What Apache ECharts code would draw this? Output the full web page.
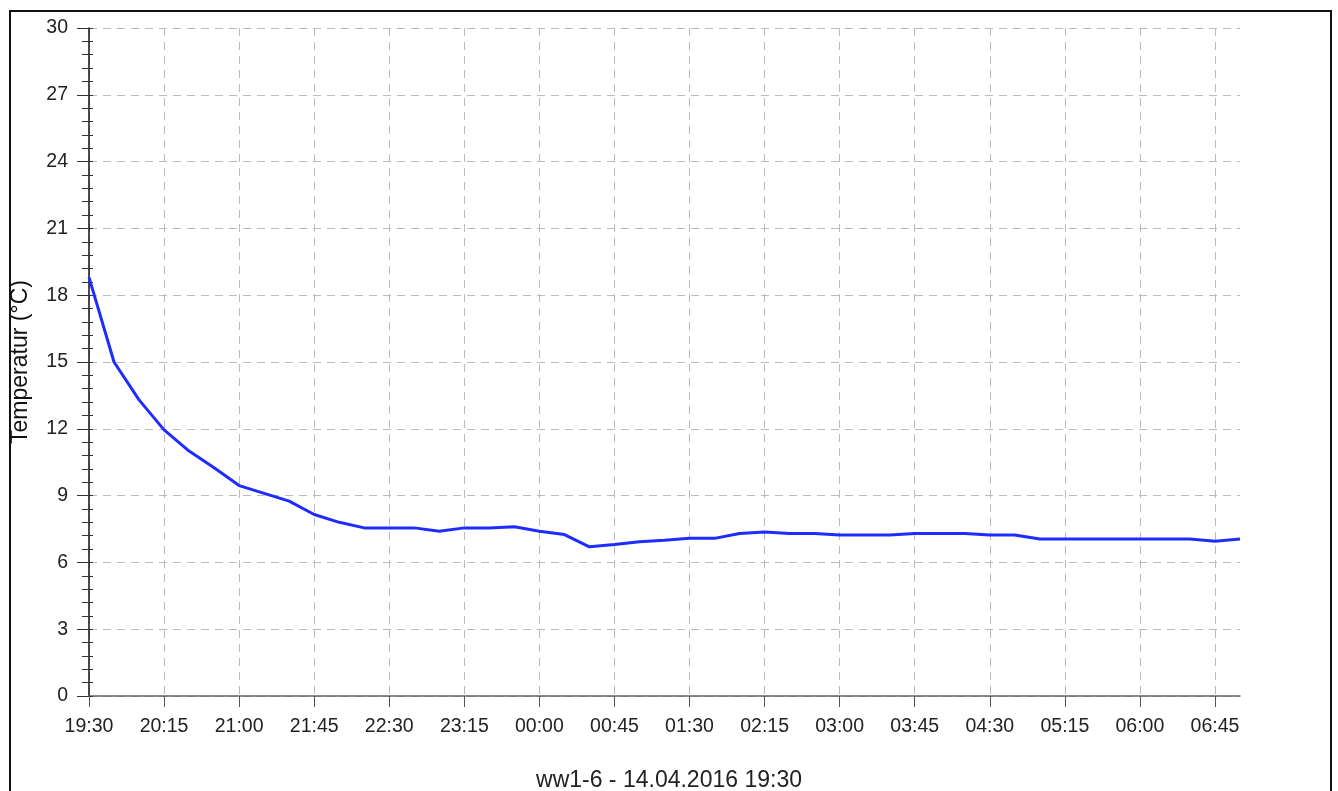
<!DOCTYPE html>
<html>
<head>
<meta charset="utf-8">
<script src="https://cdn.jsdelivr.net/npm/echarts@6/dist/echarts.min.js"></script>
<style>
html,body{margin:0;padding:0;background:#fff;}
#chart{width:1338px;height:791px;}
</style>
</head>
<body>
<div id="chart"></div>
<script>
// Time categories, every 15 minutes from 19:30 to 07:00
const times = [
  '19:30','19:45','20:00','20:15','20:30','20:45','21:00','21:15','21:30','21:45',
  '22:00','22:15','22:30','22:45','23:00','23:15','23:30','23:45','00:00','00:15',
  '00:30','00:45','01:00','01:15','01:30','01:45','02:00','02:15','02:30','02:45',
  '03:00','03:15','03:30','03:45','04:00','04:15','04:30','04:45','05:00','05:15',
  '05:30','05:45','06:00','06:15','06:30','06:45','07:00'
];
// Temperature (°C)
const temps = [
  18.8, 15.0, 13.3, 11.95, 11.0, 10.25, 9.45, 9.1, 8.75, 8.15,
  7.8, 7.55, 7.55, 7.55, 7.4, 7.55, 7.55, 7.6, 7.4, 7.25,
  6.7, 6.8, 6.93, 7.0, 7.08, 7.08, 7.3, 7.37, 7.3, 7.3,
  7.23, 7.23, 7.23, 7.3, 7.3, 7.3, 7.23, 7.23, 7.05, 7.05,
  7.05, 7.05, 7.05, 7.05, 7.05, 6.95, 7.05
];
const yTicks = [0, 3, 6, 9, 12, 15, 18, 21, 24, 27, 30];
const yName = 'Temperatur (°C)';
const titleText = 'ww1-6 - 14.04.2016 19:30';

const FONT = '"Liberation Sans", Arial, Helvetica, sans-serif';
const chart = echarts.init(document.getElementById('chart'), null, {renderer: 'canvas'});
chart.setOption({
  backgroundColor: '#fff',
  animation: false,
  title: {
    text: titleText,
    left: 664, textAlign: 'center',
    top: 764,
    textStyle: {fontFamily: FONT, fontSize: 23, fontWeight: 'normal', color: '#222'}
  },
  graphic: [{
    type: 'rect', silent: true, z: 100,
    shape: {x: 10, y: 11, width: 1321, height: 800},
    style: {fill: 'none', stroke: '#111', lineWidth: 2}
  }],
  grid: {left: 89, right: 98, top: 28, bottom: 95, containLabel: false},
  xAxis: {
    type: 'category',
    data: times,
    boundaryGap: false,
    axisLine: {show: true, lineStyle: {color: '#666', width: 1.5}},
    axisTick: {show: true, interval: 2, length: 11, lineStyle: {color: '#555'}},
    axisLabel: {interval: 2, margin: 21, fontFamily: FONT, fontSize: 19.5, color: '#222'},
    splitLine: {show: true, interval: 2, lineStyle: {color: '#bbb', type: [8, 6], width: 1}}
  },
  yAxis: [{
    type: 'value',
    min: yTicks[0], max: yTicks[yTicks.length - 1], interval: 3,
    name: yName,
    nameLocation: 'middle',
    nameGap: 57,
    nameTextStyle: {fontFamily: FONT, fontSize: 23, color: '#111'},
    axisLine: {show: true, lineStyle: {color: '#111', width: 1.5}},
    axisTick: {show: true, length: 12, lineStyle: {color: '#333'}},
    minorTick: {show: true, splitNumber: 5, length: 7, lineStyle: {color: '#333'}},
    axisLabel: {margin: 21, fontFamily: FONT, fontSize: 19.5, color: '#222'},
    splitLine: {show: true, lineStyle: {color: '#bbb', type: [8, 6], width: 1}}
  }, {
    type: 'value',
    position: 'left',
    min: yTicks[0], max: yTicks[yTicks.length - 1], interval: 3,
    axisLine: {show: false},
    axisTick: {show: true, inside: true, length: 4, lineStyle: {color: '#333'}},
    minorTick: {show: true, splitNumber: 5, length: 4, lineStyle: {color: '#333'}},
    axisLabel: {show: false},
    splitLine: {show: false}
  }],
  series: [{
    type: 'line',
    data: temps,
    yAxisIndex: 0,
    showSymbol: false,
    symbol: 'none',
    smooth: false,
    lineStyle: {color: '#1f2cff', width: 3}
  }]
});
</script>
</body>
</html>
